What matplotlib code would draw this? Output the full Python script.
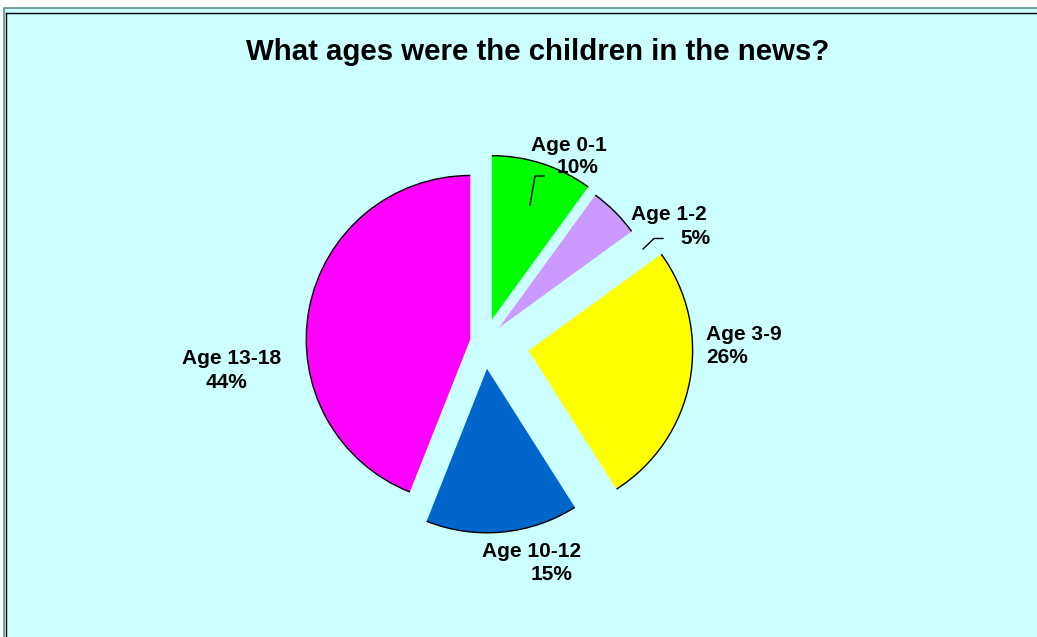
import matplotlib
matplotlib.use("Agg")
import matplotlib.pyplot as plt
from matplotlib.patches import Arc, Rectangle

## Data
ages = ["Age 0-1", "Age 1-2", "Age 3-9", "Age 10-12", "Age 13-18"]
percents = [10, 5, 26, 15, 44]
colors = ["#00FF00", "#CC99FF", "#FFFF00", "#0066CC", "#FF00FF"]
explode = [23.7, 20.4, 44.9, 26.7, 14.5]  # offset of each slice, in pixels

W, H = 1037, 637

def py(y):
    """ Convert a pixel row (from top) to data y (from bottom). """
    return H - y

plt.rcParams['font.family'] = ['Liberation Sans', 'DejaVu Sans']

fig = plt.figure(figsize=(W / 100, H / 100), dpi=100)
fig.patch.set_facecolor("white")
ax = fig.add_axes([0, 0, 1, 1])

## Chart area background and borders (cropped at right and bottom)
ax.add_patch(Rectangle((4, -20), W + 20, py(8) + 20, facecolor="#CCFFFF",
                       edgecolor="#5F8F8F", linewidth=1.2, zorder=0))
ax.plot([6, W + 5], [py(13), py(13)], color="black", linewidth=1, zorder=1)
ax.plot([6, 6], [py(13), -5], color="black", linewidth=1, zorder=1)

## Pie, slices outlined on the arc only
wedges, _ = ax.pie(percents, colors=colors, startangle=90, counterclock=False,
                   explode=explode, center=(484.5, py(342.2)), radius=164,
                   wedgeprops=dict(linewidth=0))
for w in wedges:
    ax.add_patch(Arc(w.center, 2 * w.r, 2 * w.r, theta1=w.theta1,
                     theta2=w.theta2, color="black", linewidth=1, zorder=3))

## Labels: (x of name, baseline of name, x of percent, baseline of percent)
label_pos = [(530.7, 150.7, 556.7, 172.7),
             (631, 220, 680, 244),
             (706, 340, 706, 363.3),
             (481.7, 556.7, 531, 580),
             (181.7, 364, 205.7, 388.3)]
for name, pct, (x1, y1, x2, y2) in zip(ages, percents, label_pos):
    ax.text(x1, py(y1), name, fontsize=15, fontweight="bold",
            ha="left", va="baseline")
    ax.text(x2, py(y2), f"{pct}%", fontsize=15, fontweight="bold",
            ha="left", va="baseline")

## Small leader lines
ax.plot([530, 535, 544], [py(205), py(176), py(176)], color="black", linewidth=1)
ax.plot([643, 654, 663], [py(249), py(238.5), py(238.5)], color="black", linewidth=1)

ax.text(538, py(60), "What ages were the children in the news?", fontsize=21.2,
        fontweight="bold", ha="center", va="baseline")

ax.set_xlim(0, W)
ax.set_ylim(0, H)
ax.set_aspect("auto")
ax.axis("off")

fig.savefig("out.png", dpi=100)
